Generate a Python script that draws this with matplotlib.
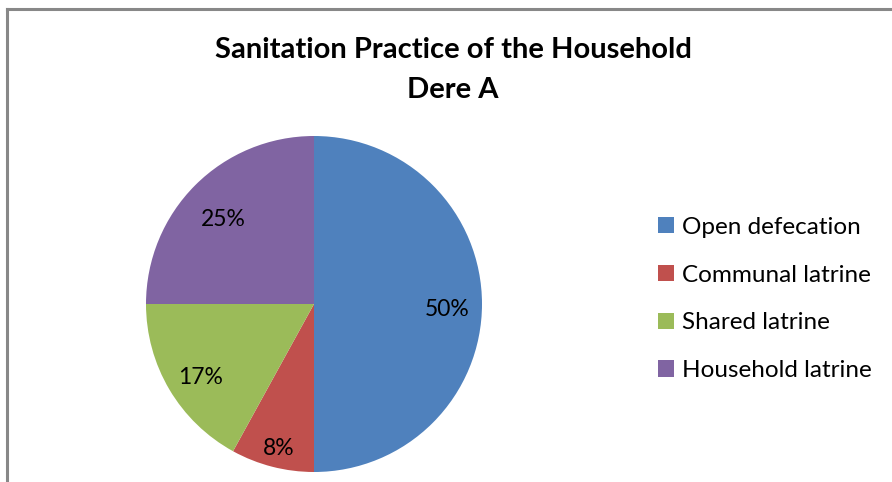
import numpy as np
import matplotlib.pyplot as plt
from matplotlib.patches import Patch

categories = ["Open defecation", "Communal latrine", "Shared latrine", "Household latrine"]
shares = [50, 8, 17, 25]
colors = ["#4F81BD", "#C0504D", "#9BBB59", "#8064A2"]

plt.rcParams["font.family"] = ["Lato", "DejaVu Sans"]

fig = plt.figure(figsize=(8.92, 4.82), dpi=100)

# chart frame (only left and top edges show)
fig.add_artist(plt.Line2D([7 / 892, 7 / 892], [0, 1 - 8.5 / 482], color="#888888", lw=2.2))
fig.add_artist(plt.Line2D([7 / 892, 1], [1 - 8.5 / 482, 1 - 8.5 / 482], color="#888888", lw=2.2))

ax = fig.add_axes([146 / 892, 10 / 482, 336 / 892, 336 / 482])
wedges, texts, autotexts = ax.pie(
    shares, colors=colors, startangle=90, counterclock=False,
    autopct=lambda p: f"{p:.0f}%",
    textprops={"fontsize": 16.5, "color": "black"},
)
# place percentage labels like the "best fit" layout
label_r = [0.79, 0.85, 0.785, 0.765]
for w, t, r in zip(wedges, autotexts, label_r):
    mid = np.deg2rad((w.theta1 + w.theta2) / 2)
    t.set_position((r * np.cos(mid), r * np.sin(mid) - 0.035))
ax.set_xlim(-1, 1)
ax.set_ylim(-1, 1)
ax.set_aspect("equal")

fig.text(453 / 892, 1 - 50 / 482, "Sanitation Practice of the Household", ha="center", va="center",
         fontsize=21, fontweight="bold")
fig.text(453 / 892, 1 - 90 / 482, "Dere A", ha="center", va="center",
         fontsize=21, fontweight="bold")

handles = [Patch(facecolor=c, edgecolor="none") for c in colors]
fig.legend(handles, categories, loc="center left", bbox_to_anchor=(636 / 892, 1 - 299 / 482),
           frameon=False, fontsize=17.5, handlelength=0.65, handleheight=0.65,
           handletextpad=0.35, labelspacing=1.1)

fig.savefig("out.png", dpi=100)
